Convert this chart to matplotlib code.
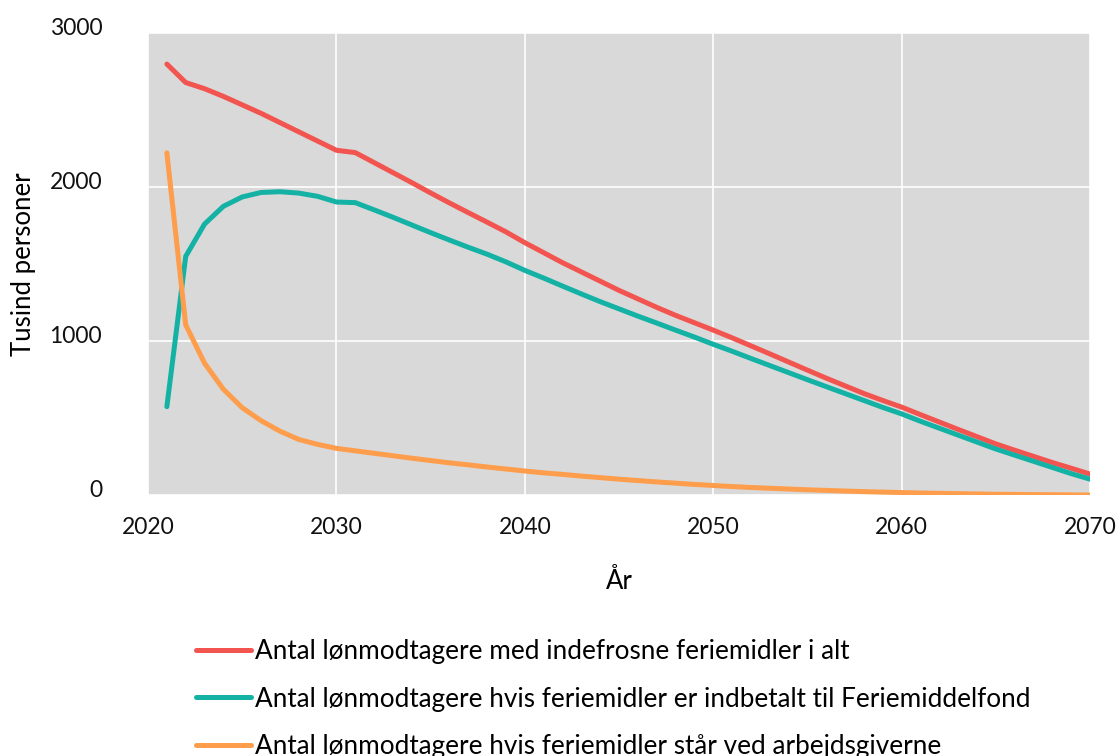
import matplotlib.pyplot as plt
from matplotlib.transforms import ScaledTranslation

years = list(range(2021, 2071))

total = [2800, 2680, 2640, 2590, 2535, 2480, 2420, 2360, 2300, 2240,
         2225, 2160, 2095, 2030, 1963, 1898, 1835, 1773, 1710, 1640,
         1575, 1510, 1450, 1390, 1330, 1275, 1220, 1168, 1120, 1072,
         1022, 970, 918, 865, 812, 760, 710, 660, 615, 572,
         523, 475, 427, 380, 333, 292, 252, 212, 175, 137]

fond = [575, 1551, 1761, 1876, 1937, 1966, 1971, 1962, 1941, 1904,
        1900, 1853, 1805, 1755, 1705, 1657, 1610, 1565, 1515, 1460,
        1410, 1358, 1307, 1257, 1210, 1163, 1118, 1072, 1027, 980,
        935, 888, 842, 796, 750, 705, 660, 615, 570, 528,
        480, 435, 390, 345, 300, 260, 220, 180, 140, 104]

arbejdsgiver = [2223, 1106, 857, 688, 568, 484, 416, 362, 330, 304,
                288, 272, 256, 240, 225, 210, 197, 183, 170, 157,
                145, 135, 124, 114, 104, 95, 86, 78, 70, 63,
                56, 50, 45, 40, 35, 31, 27, 23, 20, 17,
                14, 12, 10, 8, 6, 5, 4, 3, 2, 1]

labels = ["Antal lønmodtagere med indefrosne feriemidler i alt",
          "Antal lønmodtagere hvis feriemidler er indbetalt til Feriemiddelfond",
          "Antal lønmodtagere hvis feriemidler står ved arbejdsgiverne"]
colors = ["#f25450", "#14b1a5", "#fe9d4c"]

plt.rcParams['font.family'] = ['Lato', 'DejaVu Sans']

fig = plt.figure(figsize=(11.18, 7.56), dpi=100)
ax = fig.add_axes([0.1324, 0.345, 0.8426, 0.611])
ax.set_facecolor("#d9d9d9")

for series, color, label in zip([total, fond, arbejdsgiver], colors, labels):
    ax.plot(years, series, color=color, lw=3.6, label=label,
            solid_capstyle='round', solid_joinstyle='round')

ax.set_xlim(2020, 2070)
ax.set_ylim(0, 3000)
ax.set_xticks(range(2020, 2071, 10))
ax.set_yticks([0, 1000, 2000, 3000])
ax.grid(True, color="white", lw=1.2)
ax.set_axisbelow(True)
for s in ax.spines.values():
    s.set_visible(False)
ax.tick_params(length=0, labelsize=16.5, colors="#111111")
ax.tick_params(axis='x', pad=16)
ax.tick_params(axis='y', pad=33)
shift = ScaledTranslation(0, 4.5 / 100, fig.dpi_scale_trans)
for lab in ax.get_yticklabels():
    lab.set_verticalalignment('center')
    lab.set_transform(lab.get_transform() + shift)

ax.set_xlabel("År", fontsize=18.5, labelpad=22)
ax.set_ylabel("Tusind personer", fontsize=18.5, labelpad=10)

fig.legend(loc='upper left', bbox_to_anchor=(0.166, 0.168), frameon=False,
           fontsize=18.8, handlelength=2.1, handletextpad=0.15,
           labelspacing=0.85, borderaxespad=0)

fig.savefig("out.png", dpi=100)
